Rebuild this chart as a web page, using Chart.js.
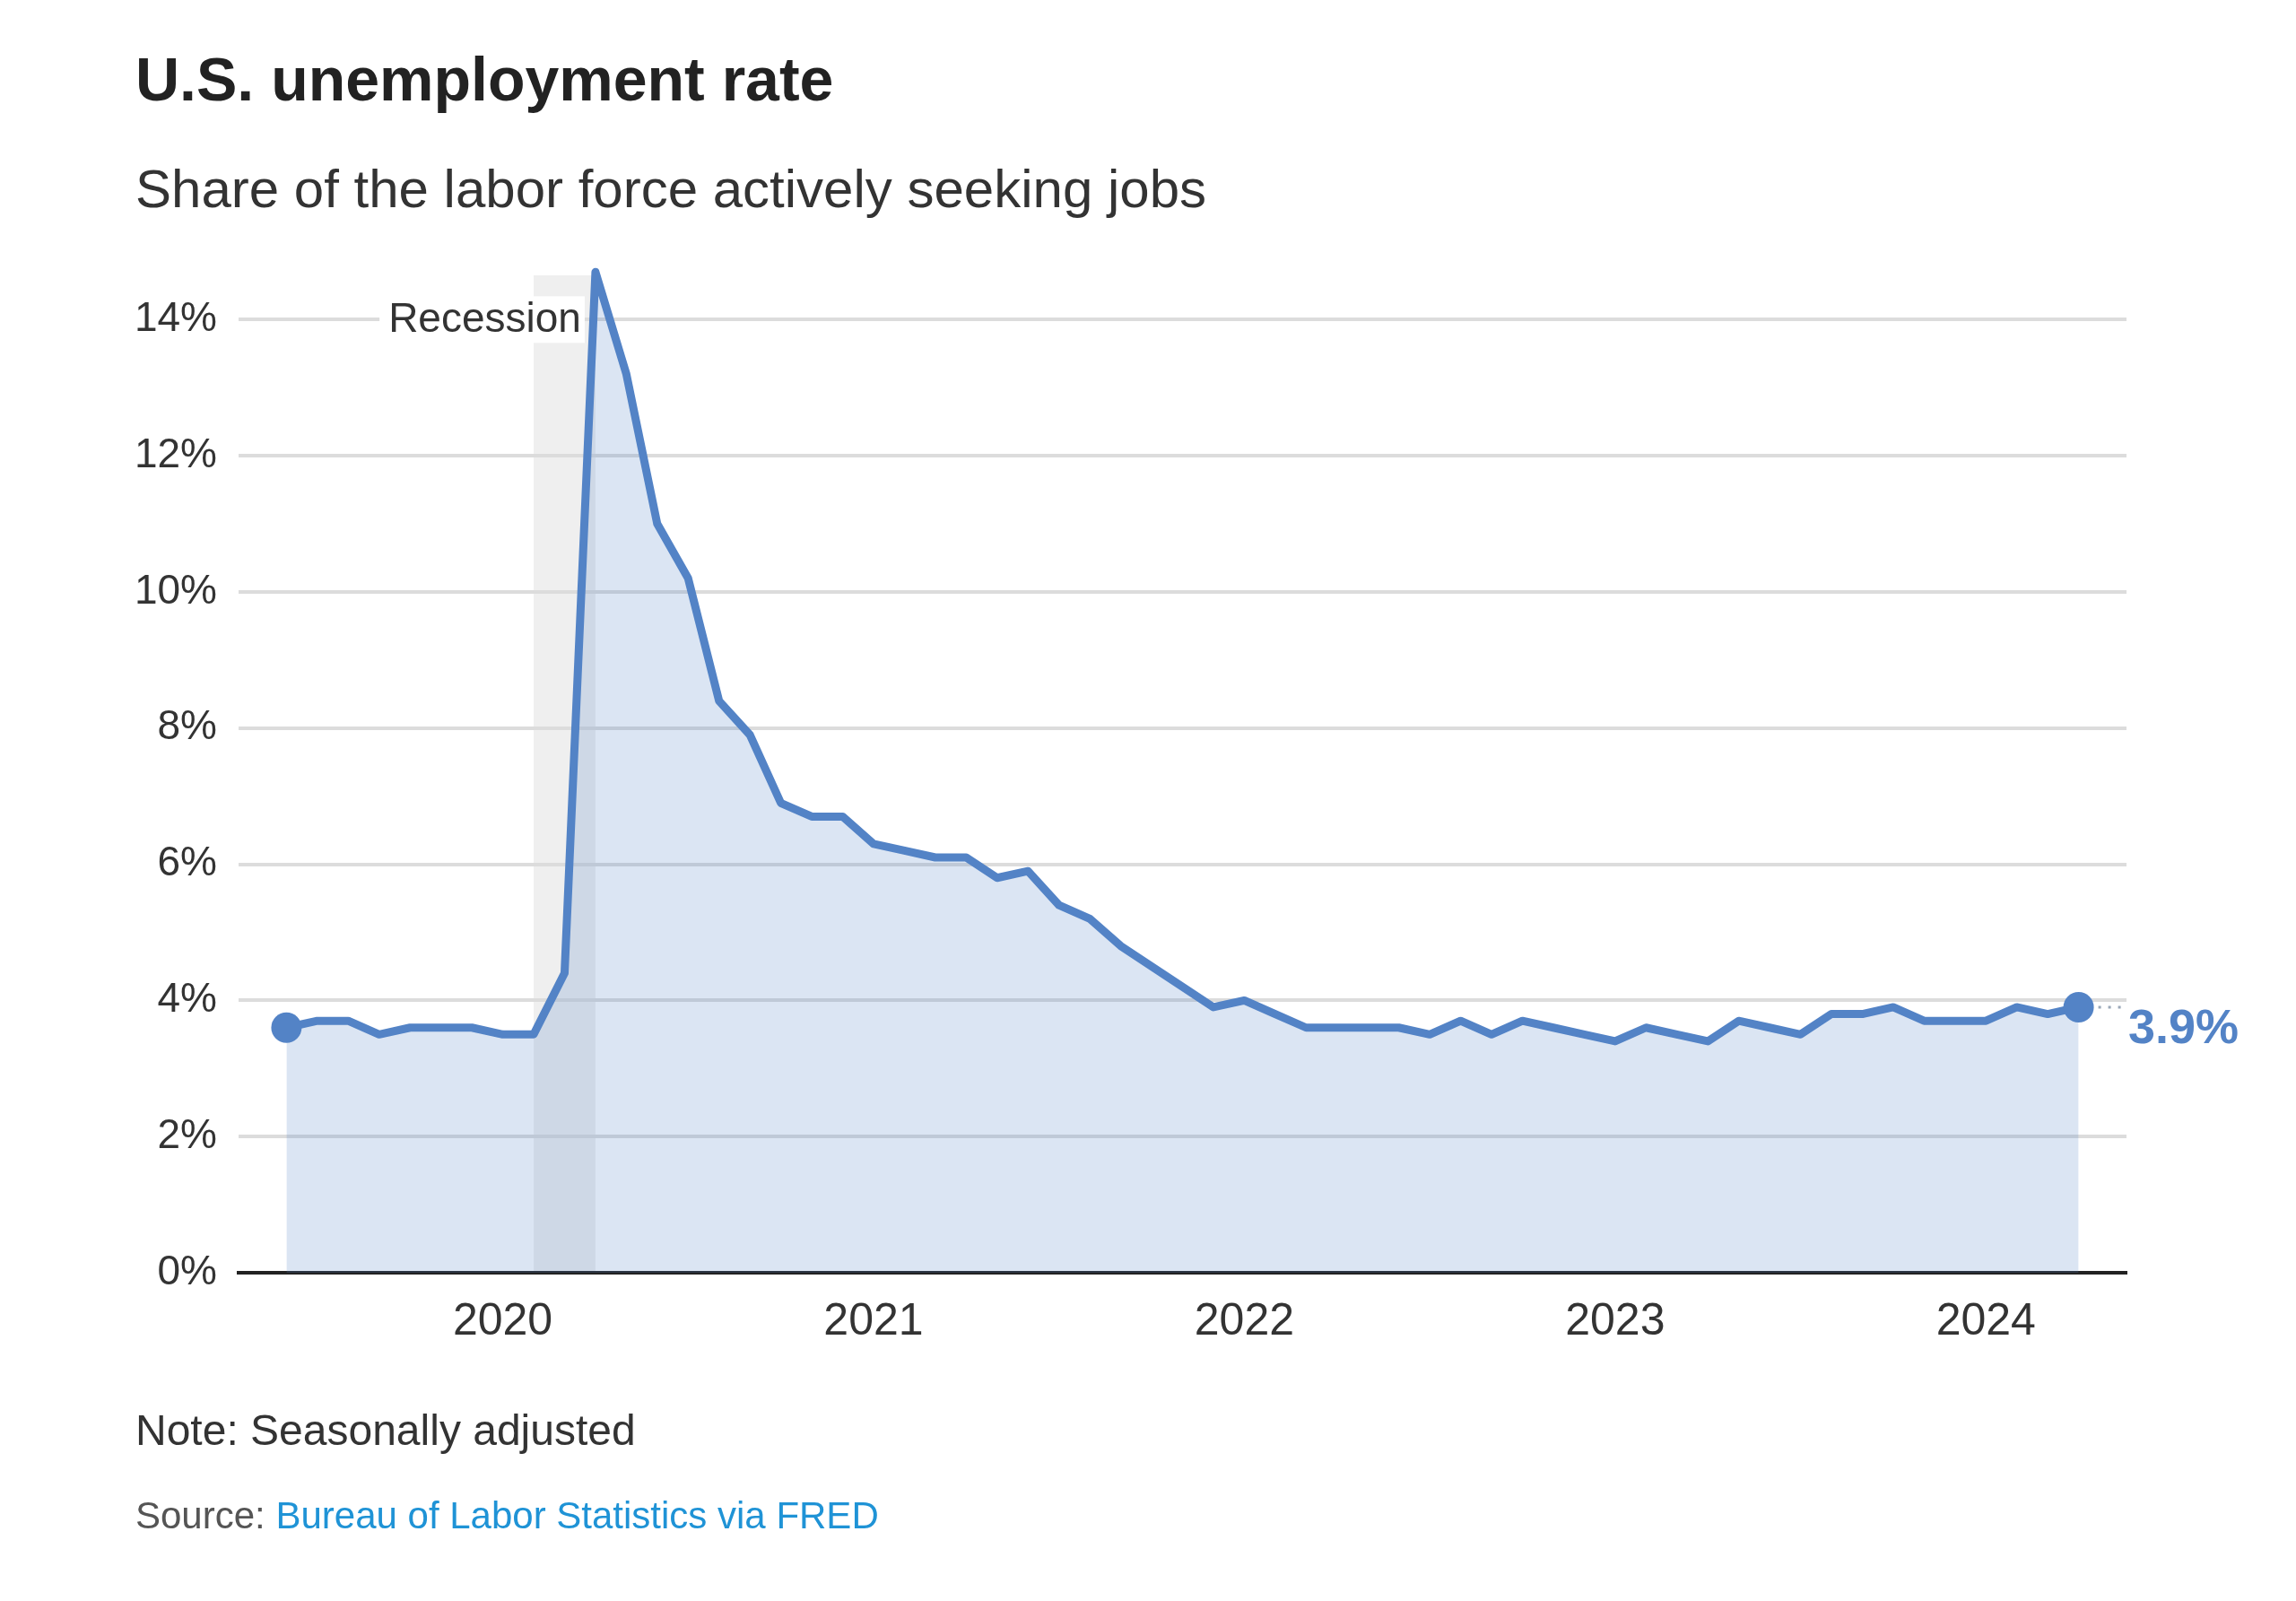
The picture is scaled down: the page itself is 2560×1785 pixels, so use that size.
<!DOCTYPE html>
<html>
<head>
<meta charset="utf-8">
<script src="https://cdn.jsdelivr.net/npm/chart.js@4.4.1/dist/chart.umd.min.js"></script>
<style>
  html, body { margin: 0; padding: 0; background: #fff; }
  body { width: 2560px; height: 1785px; position: relative; overflow: hidden;
         font-family: "Liberation Sans", Arial, sans-serif; }
  .txt { position: absolute; left: 151px; line-height: 1; white-space: nowrap; }
  #title { top: 54px; font-size: 68px; font-weight: bold; color: #222; }
  #subtitle { top: 181px; font-size: 60px; color: #333; }
  #note { top: 1571px; font-size: 48px; color: #333; }
  #source { top: 1669px; font-size: 42px; color: #555; }
  #source span { color: #1f93d6; }
  #chart { position: absolute; left: 0; top: 0; }
</style>
</head>
<body>
<div class="txt" id="title">U.S. unemployment rate</div>
<div class="txt" id="subtitle">Share of the labor force actively seeking jobs</div>
<canvas id="chart" width="2560" height="1785"></canvas>
<div class="txt" id="note">Note: Seasonally adjusted</div>
<div class="txt" id="source">Source: <span>Bureau of Labor Statistics via FRED</span></div>

<script>
/* ---------- data ---------- */
const months = [
  "2019-06", "2019-07", "2019-08", "2019-09", "2019-10", "2019-11", "2019-12",
  "2020-01", "2020-02", "2020-03", "2020-04", "2020-05", "2020-06",
  "2020-07", "2020-08", "2020-09", "2020-10", "2020-11", "2020-12",
  "2021-01", "2021-02", "2021-03", "2021-04", "2021-05", "2021-06",
  "2021-07", "2021-08", "2021-09", "2021-10", "2021-11", "2021-12",
  "2022-01", "2022-02", "2022-03", "2022-04", "2022-05", "2022-06",
  "2022-07", "2022-08", "2022-09", "2022-10", "2022-11", "2022-12",
  "2023-01", "2023-02", "2023-03", "2023-04", "2023-05", "2023-06",
  "2023-07", "2023-08", "2023-09", "2023-10", "2023-11", "2023-12",
  "2024-01", "2024-02", "2024-03", "2024-04",
];
const rates = [
  3.6, 3.7, 3.7, 3.5, 3.6, 3.6, 3.6,
  3.5, 3.5, 4.4, 14.7, 13.2, 11.0, 10.2, 8.4, 7.9, 6.9, 6.7, 6.7,
  6.3, 6.2, 6.1, 6.1, 5.8, 5.9, 5.4, 5.2, 4.8, 4.5, 4.2, 3.9,
  4.0, 3.8, 3.6, 3.6, 3.6, 3.6, 3.5, 3.7, 3.5, 3.7, 3.6, 3.5,
  3.4, 3.6, 3.5, 3.4, 3.7, 3.6, 3.5, 3.8, 3.8, 3.9, 3.7, 3.7,
  3.7, 3.9, 3.8, 3.9,
];
const yearTicks = ["2020", "2021", "2022", "2023", "2024"];
const yTicks = [0, 2, 4, 6, 8, 10, 12, 14];
const recession = ["2020-02", "2020-04"];

/* ---------- colours ---------- */
const lineColor = "#5383c6";
const fillColor = "rgba(83, 131, 198, 0.21)";
const gridColor = "#dcdcdc";

const points = rates.map((v, i) => ({ x: i, y: v }));
const yearIdx = yearTicks.map((y) => months.indexOf(y + "-01"));
const lastIdx = rates.length - 1;

Chart.defaults.font.family = "'Liberation Sans', Arial, sans-serif";

// grey band for the recession, under the grid lines
const recessionBand = {
  id: "recessionBand",
  beforeDraw(chart) {
    const { ctx, chartArea, scales } = chart;
    const x0 = scales.x.getPixelForValue(months.indexOf(recession[0]));
    const x1 = scales.x.getPixelForValue(months.indexOf(recession[1]));
    ctx.save();
    ctx.fillStyle = "#efefef";
    ctx.fillRect(x0, chartArea.top, x1 - x0, chartArea.bottom - chartArea.top);
    ctx.restore();
  },
  beforeDatasetsDraw(chart) {
    const { ctx, scales } = chart;
    const right = scales.x.getPixelForValue(months.indexOf(recession[1])) - 16;
    const y = scales.y.getPixelForValue(14);
    ctx.save();
    ctx.font = "46px 'Liberation Sans', Arial, sans-serif";
    const w = ctx.measureText("Recession").width;
    ctx.fillStyle = "#fff";
    ctx.fillRect(right - w - 10, y - 26, w + 14, 52);
    ctx.fillStyle = "#333";
    ctx.textAlign = "right";
    ctx.textBaseline = "middle";
    ctx.fillText("Recession", right, y + 1);
    ctx.restore();
  },
};

// label for the latest value
const endLabel = {
  id: "endLabel",
  afterDatasetsDraw(chart) {
    const { ctx, chartArea, scales } = chart;
    const px = scales.x.getPixelForValue(lastIdx);
    const py = scales.y.getPixelForValue(rates[lastIdx]);
    ctx.save();
    ctx.strokeStyle = "#9aa7b8";
    ctx.lineWidth = 3;
    ctx.setLineDash([3, 8]);
    ctx.beginPath();
    ctx.moveTo(px + 22, py);
    ctx.lineTo(chartArea.right - 2, py);
    ctx.stroke();
    ctx.setLineDash([]);
    ctx.fillStyle = lineColor;
    ctx.font = "bold 54px 'Liberation Sans', Arial, sans-serif";
    ctx.textAlign = "left";
    ctx.textBaseline = "middle";
    ctx.fillText(rates[lastIdx].toFixed(1) + "%", chartArea.right + 2, py + 25);
    ctx.restore();
  },
};

new Chart(document.getElementById("chart"), {
  type: "line",
  plugins: [recessionBand, endLabel],
  data: {
    datasets: [
      {
        data: points,
        borderColor: lineColor,
        borderWidth: 9,
        borderJoinStyle: "round",
        borderCapStyle: "round",
        backgroundColor: fillColor,
        fill: "origin",
        tension: 0,
        clip: false,
        pointRadius: (c) => (c.dataIndex === 0 || c.dataIndex === lastIdx ? 17 : 0),
        pointBackgroundColor: lineColor,
        pointBorderWidth: 0,
      },
    ],
  },
  options: {
    responsive: false,
    animation: false,
    layout: { padding: { top: 307, right: 189, left: 0, bottom: 0 } },
    plugins: { legend: { display: false }, tooltip: { enabled: false } },
    scales: {
      x: {
        type: "linear",
        min: -1.55,
        max: 59.55,
        afterFit: (s) => { s.height = 366; },
        afterBuildTicks: (s) => { s.ticks = yearIdx.map((v) => ({ value: v })); },
        grid: { display: false, drawTicks: false },
        border: { display: true, color: "#222", width: 4 },
        ticks: {
          padding: 25,
          color: "#333",
          font: { size: 50 },
          maxRotation: 0,
          autoSkip: false,
          callback: (v) => yearTicks[yearIdx.indexOf(v)],
        },
      },
      y: {
        min: 0,
        max: 14.65,
        afterFit: (s) => { s.width = 266; },
        afterBuildTicks: (s) => { s.ticks = yTicks.map((v) => ({ value: v })); },
        grid: {
          drawTicks: false,
          lineWidth: 4,
          color: (c) => (c.tick && c.tick.value === 0 ? "rgba(0,0,0,0)" : gridColor),
        },
        border: { display: false },
        ticks: {
          padding: 24,
          color: "#333",
          font: { size: 46 },
          callback: (v) => v + "%",
        },
      },
    },
  },
});
</script>
</body>
</html>
